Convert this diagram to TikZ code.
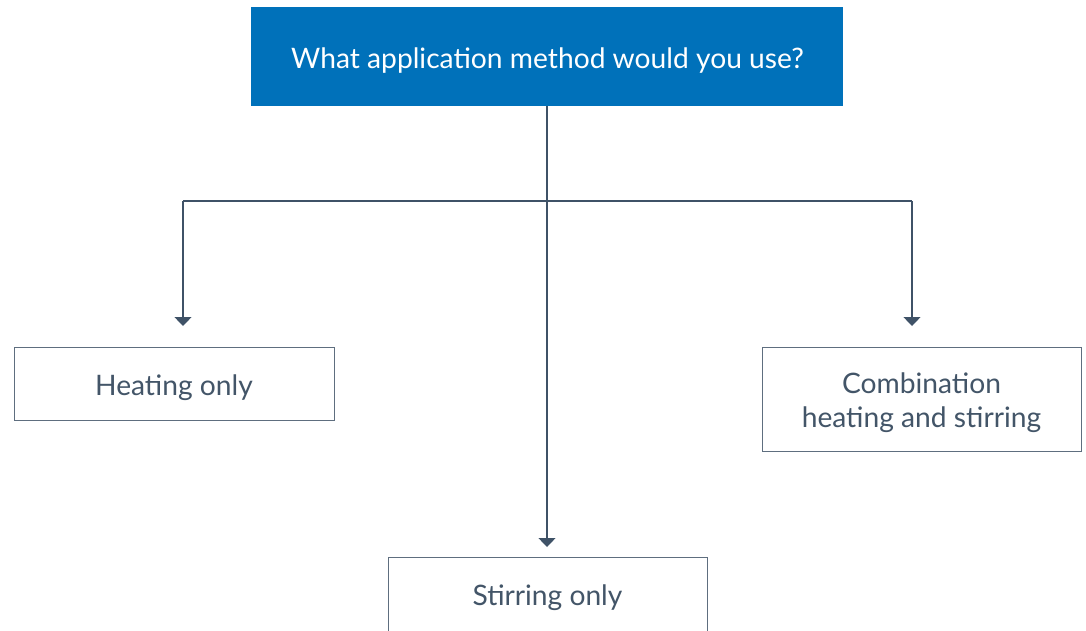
\documentclass[tikz,border=0pt]{standalone}
\usepackage{fontspec}
\setmainfont{Lato}
\usetikzlibrary{arrows.meta}
\definecolor{topblue}{HTML}{0071BA}
\definecolor{linecol}{HTML}{3F5267}
\definecolor{boxcol}{HTML}{5E6E7F}
\definecolor{txtcol}{HTML}{435568}
\tikzset{
  fnt/.style={font=\fontsize{28.2}{34}\selectfont},
  optbox/.style={draw=boxcol, line width=1.2pt, fill=white, text=txtcol, align=center, fnt, anchor=north west, inner sep=0pt},
  conn/.style={draw=linecol, line width=1.2pt, -{Triangle[width=17pt,length=9pt]}},
  plain/.style={draw=linecol, line width=1.2pt}
}
\begin{document}
\begin{tikzpicture}[x=1pt,y=-1pt]
\useasboundingbox (0,0) rectangle (1086,630);
\clip (0,0) rectangle (1086,630);
\node[fill=topblue, text=white, fnt, minimum width=592pt, minimum height=99pt, anchor=north west, inner sep=0pt] (q) at (251,7) {};
\node[text=white, fnt] (qt) at (547.5,61) {What application method would you use?};
\node[optbox, minimum width=320pt, minimum height=73pt] (h) at (14,347) {};
\node[text=txtcol, fnt] (ht1) at (174,388) {Heating only};
\node[optbox, minimum width=319pt, minimum height=104pt] (c) at (762,347) {};
\node[text=txtcol, fnt, align=center] (ct1) at (921.5,403) {Combination\\heating and stirring};
\node[optbox, minimum width=319pt, minimum height=100pt] (s) at (388,557) {};
\node[text=txtcol, fnt] (st) at (547.5,598) {Stirring only};
\coordinate (j) at (547,201);
\coordinate (hl) at (183,201);
\coordinate (hr) at (912,201);
\coordinate (ht) at (183,326);
\coordinate (ct) at (912,326);
\coordinate (stt) at (547,547);
\draw[plain] (q.south -| j) -- (j);
\draw[plain] (hl) -- (hr);
\draw[conn] (hl) -- (ht);
\draw[conn] (hr) -- (ct);
\draw[conn] (j) -- (stt);
\end{tikzpicture}
\end{document}
